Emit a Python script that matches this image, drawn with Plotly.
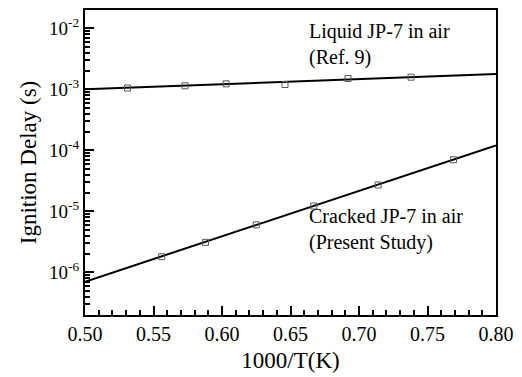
import plotly.graph_objects as go

# Data
fit_x = [0.50, 0.80]
liquid_fit_y = [1.0e-3, 1.78e-3]
cracked_fit_y = [7.0e-7, 1.2e-4]

liquid_x = [0.531, 0.573, 0.603, 0.646, 0.692, 0.738]
liquid_y = [1.05e-3, 1.14e-3, 1.23e-3, 1.20e-3, 1.50e-3, 1.58e-3]

cracked_x = [0.556, 0.588, 0.625, 0.667, 0.714, 0.769]
cracked_y = [1.8e-6, 3.1e-6, 6.0e-6, 1.22e-5, 2.7e-5, 7.0e-5]

x_ticks = [0.50, 0.55, 0.60, 0.65, 0.70, 0.75, 0.80]
x_ticklabels = ["0.50", "0.55", "0.60", "0.65", "0.70", "0.75", "0.80"]

y_ticks = [1e-6, 1e-5, 1e-4, 1e-3, 1e-2]
y_ticklabels = ["10<sup>-6</sup>", "10<sup>-5</sup>", "10<sup>-4</sup>",
                "10<sup>-3</sup>", "10<sup>-2</sup>"]

labels = [
    ("Liquid JP-7 in air<br>(Ref. 9)", 0.662, 44),
    ("Cracked JP-7 in air<br>(Present Study)", 0.662, 235),
]

font_family = "Liberation Serif, Times New Roman, serif"

fig = go.Figure()

for fy in (liquid_fit_y, cracked_fit_y):
    fig.add_trace(go.Scatter(x=fit_x, y=fy, mode="lines",
                             line=dict(color="black", width=2),
                             showlegend=False, hoverinfo="skip"))

for mx, my in ((liquid_x, liquid_y), (cracked_x, cracked_y)):
    fig.add_trace(go.Scatter(x=mx, y=my, mode="markers",
                             marker=dict(symbol="square-open", size=6,
                                         color="#555555", line=dict(width=1)),
                             showlegend=False))

# plot area spans pixel rows 8..323 (height 315)
for txt, ax, py in labels:
    fig.add_annotation(x=ax, y=1 - (py - 8) / 315, xref="x", yref="paper",
                       text=txt, showarrow=False,
                       xanchor="left", yanchor="middle", align="left",
                       font=dict(family=font_family, size=20, color="black"))

fig.update_xaxes(range=[0.50, 0.80], tickmode="array", tickvals=x_ticks, ticktext=x_ticklabels,
                 ticks="inside", ticklen=9, tickwidth=2, tickcolor="black",
                 minor=dict(tickmode="linear", tick0=0.5, dtick=0.01, ticks="inside",
                            ticklen=5, tickwidth=1.5, tickcolor="black"),
                 showline=True, linewidth=2, linecolor="black", mirror=True,
                 showgrid=False, zeroline=False,
                 title=dict(text="1000/T(K)", font=dict(family=font_family, size=23, color="black"),
                            standoff=8),
                 tickfont=dict(family=font_family, size=20, color="black"))

fig.update_yaxes(type="log", range=[-6.7, -1.7], tickmode="array",
                 tickvals=y_ticks, ticktext=y_ticklabels,
                 ticks="inside", ticklen=9, tickwidth=2, tickcolor="black",
                 minor=dict(ticks="inside", ticklen=5, tickwidth=1.5, tickcolor="black", dtick="D1"),
                 showline=True, linewidth=2, linecolor="black", mirror=True,
                 showgrid=False, zeroline=False,
                 title=dict(text="Ignition Delay (s)", font=dict(family=font_family, size=23, color="black"),
                            standoff=6),
                 tickfont=dict(family=font_family, size=19, color="black"))

fig.update_layout(width=522, height=377,
                  margin=dict(l=85, r=19, t=8, b=54),
                  paper_bgcolor="white", plot_bgcolor="white",
                  font=dict(family=font_family, color="black"))

fig.write_html("out.html")
